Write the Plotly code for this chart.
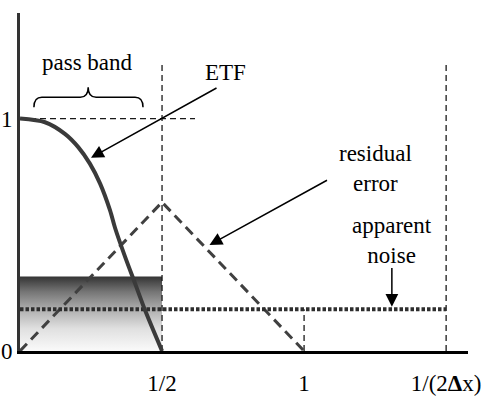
import plotly.graph_objects as go

# Wavenumber axis: 1/2 (pass-band edge), 1, and the Nyquist limit 1/(2Δx)
k_half = 0.5
k_one = 1.0
k_nyq = 1.5
tick_vals = [k_half, k_one, k_nyq]
tick_text = ["1/2", "1", "1/(2<b>Δ</b>x)"]

# Effective transfer function (ETF) sampled along k
etf_k = [0.0, 0.088, 0.158, 0.205, 0.246, 0.282, 0.317, 0.335, 0.370, 0.405, 0.440, 0.5]
etf_v = [1.0, 0.984, 0.934, 0.877, 0.806, 0.720, 0.605, 0.528, 0.405, 0.291, 0.176, 0.0]

# Residual error: triangle peaking at k = 1/2
resid_k = [0.0, k_half, k_one]
resid_v = [0.0, 0.64, 0.0]

# Apparent noise level and the shaded noise band inside the pass band
noise_level = 0.18
band_top = 0.32

# Guide lines
unit_level = 1.0
unit_guide_end = 0.616
guide_top = 1.23

# Pass-band brace extent
brace_x0, brace_x1, brace_mid = 0.049, 0.433, 0.24
brace_y_low, brace_y_mid, brace_y_tip = 1.049, 1.092, 1.135
brace_r = 0.028

x_max = 1.577
y_max = 1.454

serif = "Liberation Serif, Times New Roman, serif"
dark = "#3a3a3a"

fig = go.Figure()

# Shaded noise band (vertical grey gradient)
fig.add_trace(go.Scatter(
    x=[0, k_half, k_half, 0, 0],
    y=[0, 0, band_top, band_top, 0],
    mode="lines", fill="toself", line=dict(width=0),
    fillgradient=dict(
        type="vertical",
        colorscale=[[0, "#fafafa"], [0.3, "#e0e0e0"], [0.55, "#b0b0b0"],
                    [0.8, "#747474"], [1, "#343434"]],
    ),
    hoverinfo="skip", showlegend=False,
))

thin_dash = dict(color="#1a1a1a", width=1.3, dash="6px,4px")

# Horizontal guide at ETF = 1
fig.add_trace(go.Scatter(x=[0, unit_guide_end], y=[unit_level, unit_level],
                         mode="lines", line=thin_dash, showlegend=False))
# Vertical guides at 1/2 and 1/(2Δx)
for kv in (k_half, k_nyq):
    fig.add_trace(go.Scatter(x=[kv, kv], y=[0, guide_top], mode="lines",
                             line=thin_dash, showlegend=False))
# Short vertical guide at k = 1
fig.add_trace(go.Scatter(x=[k_one, k_one], y=[0, noise_level], mode="lines",
                         line=thin_dash, showlegend=False))

# Residual error triangle
fig.add_trace(go.Scatter(x=resid_k, y=resid_v, mode="lines",
                         line=dict(color="#404040", width=3, dash="10px,6px"),
                         showlegend=False))

# Apparent noise level
fig.add_trace(go.Scatter(x=[0, k_nyq], y=[noise_level, noise_level], mode="lines",
                         line=dict(color="#2e2e2e", width=4, dash="3.5px,2px"),
                         showlegend=False))

# ETF curve
fig.add_trace(go.Scatter(x=etf_k, y=etf_v, mode="lines",
                         line=dict(color=dark, width=4, shape="spline", smoothing=0.8),
                         showlegend=False))

# Pass-band brace
brace_path = (
    f"M {brace_x0},{brace_y_low} "
    f"Q {brace_x0},{brace_y_mid} {brace_x0 + brace_r},{brace_y_mid} "
    f"L {brace_mid - brace_r},{brace_y_mid} "
    f"Q {brace_mid},{brace_y_mid} {brace_mid},{brace_y_tip} "
    f"Q {brace_mid},{brace_y_mid} {brace_mid + brace_r},{brace_y_mid} "
    f"L {brace_x1 - brace_r},{brace_y_mid} "
    f"Q {brace_x1},{brace_y_mid} {brace_x1},{brace_y_low}"
)
fig.add_shape(type="path", path=brace_path, xref="x", yref="y",
              line=dict(color="black", width=1.5))

txt_font = dict(family=serif, size=23, color="black")

labels = [
    ("pass band", 0.239, 1.243),
    ("ETF", 0.722, 1.20),
    ("residual<br>error", 1.25, 0.783),
    ("apparent<br>noise", 1.31, 0.477),
    ("k", 1.595, 0.026),
]
for text, x, y in labels:
    fig.add_annotation(text=text, x=x, y=y, xref="x", yref="y", showarrow=False,
                       font=txt_font, xanchor="center", yanchor="middle")

# Pointer arrows: (tail x, tail y, head x, head y)
arrows = [
    (0.697, 1.135, 0.25, 0.831),
    (1.086, 0.738, 0.667, 0.456),
    (1.309, 0.363, 1.309, 0.19),
]
for ax, ay, hx, hy in arrows:
    fig.add_annotation(text="", x=hx, y=hy, ax=ax, ay=ay, xref="x", yref="y",
                       axref="x", ayref="y", showarrow=True, arrowhead=2,
                       arrowsize=1.7, arrowwidth=1.5, arrowcolor="black",
                       standoff=0, startstandoff=0)

fig.update_layout(
    width=482, height=396,
    margin=dict(l=20, r=14, t=13, b=45),
    paper_bgcolor="white", plot_bgcolor="white",
    font=txt_font,
    xaxis=dict(range=[0, x_max], showgrid=False, zeroline=False,
               showline=True, linecolor="black", linewidth=2.5,
               tickvals=tick_vals, ticktext=tick_text, ticks="",
               tickfont=txt_font, ticklabelstandoff=10, automargin=False,
               fixedrange=True),
    yaxis=dict(range=[0, y_max], showgrid=False, zeroline=False,
               showline=True, linecolor="#333333", linewidth=3,
               tickvals=[0, 1], ticktext=["0", "1"], ticks="",
               tickfont=txt_font, ticklabelstandoff=0, automargin=False,
               fixedrange=True),
)

fig.write_html("out.html")
